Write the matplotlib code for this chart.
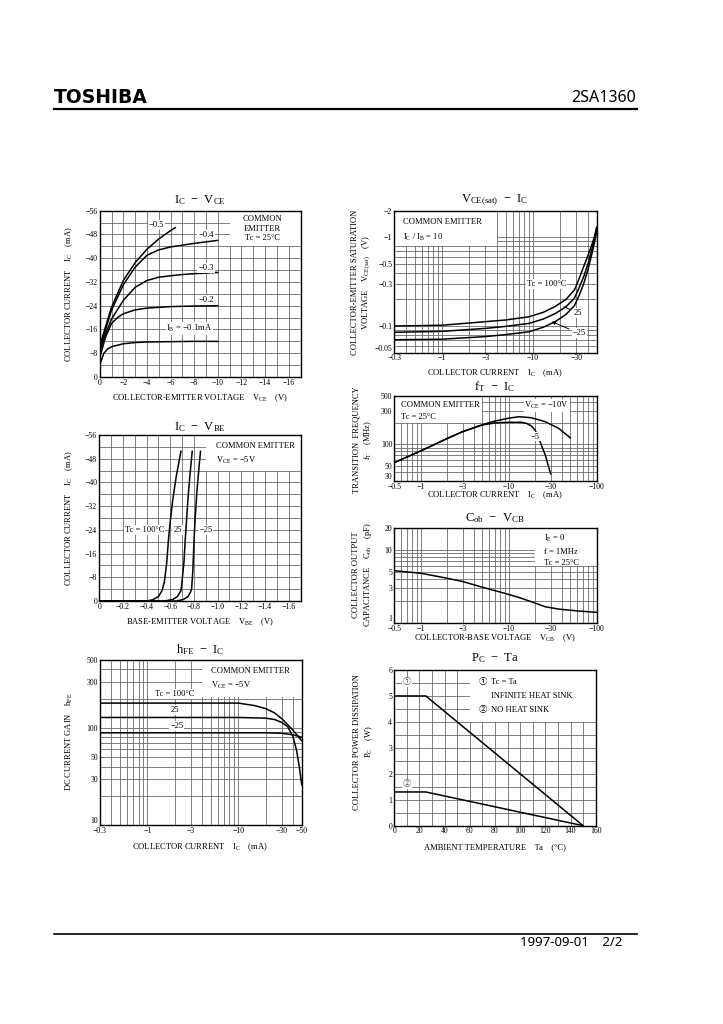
import matplotlib
matplotlib.use("Agg")
import matplotlib.pyplot as plt
from matplotlib.ticker import FixedLocator, NullFormatter, LogLocator, MultipleLocator
from matplotlib.patches import Rectangle

plt.rcParams['font.family'] = ['Liberation Serif', 'Noto Sans CJK JP', 'DejaVu Sans']
plt.rcParams['mathtext.fontset'] = 'custom'
plt.rcParams['mathtext.rm'] = 'Liberation Serif'
plt.rcParams['mathtext.it'] = 'Liberation Serif'

# ---- data (magnitudes, the sheet prints them negative) ----
# IC - VCE, Tc = 25C
ib01_v = [0, 0.35, 0.7, 1, 2, 3, 4, 6, 8, 10]
ib01_i = [4.0, 8.0, 9.5, 10.2, 11.2, 11.6, 11.8, 11.9, 12.0, 12.0]
ib02_v = [0, 0.5, 1, 1.5, 2, 3, 4, 6, 8, 10]
ib02_i = [6.5, 13.5, 18.0, 20.0, 21.3, 22.6, 23.2, 23.7, 23.9, 24.0]
ib03_v = [0, 0.5, 1, 2, 3, 4, 5, 6, 7, 8, 10]
ib03_i = [8.5, 14.5, 19.5, 25.8, 30.2, 32.5, 33.6, 34.1, 34.5, 34.8, 35.2]
ib04_v = [0, 0.5, 1, 2, 3, 4, 5, 6, 7, 8, 10]
ib04_i = [9.5, 16.0, 22.5, 31.0, 37.0, 41.0, 42.8, 43.8, 44.4, 45.0, 46.0]
ib05_v = [0, 0.5, 1, 2, 3, 4, 5, 6, 6.4]
ib05_i = [10.5, 17.0, 23.5, 32.5, 38.5, 43.0, 46.5, 49.3, 50.3]

# IC - VBE, VCE = -5V
t100_v = [0, 0.40, 0.45, 0.50, 0.53, 0.55, 0.57, 0.585, 0.60, 0.62, 0.65, 0.69]
t100_i = [0, 0, 0.4, 1.5, 3.5, 6.5, 13, 21, 27, 34, 42, 50.5]
t25_v = [0, 0.55, 0.62, 0.66, 0.69, 0.70, 0.715, 0.725, 0.735, 0.75, 0.765, 0.785]
t25_i = [0, 0, 0.5, 1.5, 3.5, 7, 13, 20, 26, 35, 42, 50.5]
tm25_v = [0, 0.65, 0.71, 0.75, 0.77, 0.78, 0.79, 0.80, 0.81, 0.825, 0.84, 0.855]
tm25_i = [0, 0, 0.5, 1.5, 3.0, 4, 10, 20, 28, 37, 44, 50.5]

# hFE - IC
h100_ic = [0.3, 1, 3, 10, 15, 20, 25, 30, 35, 40, 45, 50]
h100 = [180, 180, 180, 180, 170, 158, 143, 125, 108, 95, 83, 74]
h25_ic = [0.3, 1, 3, 10, 20, 25, 30, 35, 40, 44, 47, 50]
h25 = [128, 128, 128, 128, 126, 122, 114, 103, 82, 58, 40, 26]
hm25_ic = [0.3, 1, 3, 10, 20, 30, 40, 50]
hm25 = [89, 89, 89, 89, 89, 88, 85, 80]

# VCE(sat) - IC, IC/IB = 10
sat_ic = [0.3, 1, 3, 5, 9, 13, 17.5, 23, 28.5, 32, 36, 40, 43.6, 47, 50]
sat100 = [0.100, 0.102, 0.112, 0.117, 0.127, 0.143, 0.166, 0.20, 0.255, 0.34, 0.47, 0.62, 0.79, 1.00, 1.30]
sat25 = [0.085, 0.087, 0.094, 0.099, 0.107, 0.120, 0.138, 0.165, 0.206, 0.27, 0.36, 0.50, 0.69, 0.95, 1.26]
satm25 = [0.070, 0.071, 0.076, 0.080, 0.086, 0.097, 0.112, 0.135, 0.170, 0.22, 0.30, 0.43, 0.61, 0.85, 1.16]

# fT - IC
ft10_ic = [0.5, 1, 2, 3, 5, 7, 10, 13, 18, 26, 37, 50]
ft10 = [55, 81, 122, 153, 192, 217, 238, 250, 242, 212, 170, 125]
ft5_ic = [0.5, 1, 2, 3, 5, 7, 10, 14, 16, 18, 20, 22.7, 26, 29.4, 30]
ft5 = [55, 81, 122, 153, 190, 204, 208, 208, 200, 185, 160, 110, 71, 41, 38]

# Cob - VCB
cob_v = [0.5, 1, 2, 3, 5, 9, 13, 18, 26, 37, 62, 100]
cob = [5.2, 4.8, 4.1, 3.7, 3.1, 2.56, 2.25, 1.97, 1.68, 1.56, 1.47, 1.41]

# PC - Ta
ta1 = [0, 25, 150]
pc1 = [5, 5, 0]
ta2 = [0, 25, 150]
pc2 = [1.3, 1.3, 0]

W, H = 723, 1024
fig = plt.figure(figsize=(W / 100, H / 100), dpi=100)

GRID = '#6a6a6a'
FS = 6.1    # labels / notes
TFS = 5.6   # tick labels


def box(l, r, t, b):
    return fig.add_axes([l / W, 1 - b / H, (r - l) / W, (b - t) / H])


def neg(vals, fmt='{:g}'):
    return ['0' if v == 0 else '\u2212' + fmt.format(v) for v in vals]


def setup(ax, xt, yt, xfmt='{:g}', yfmt='{:g}'):
    ax.set_axisbelow(True)
    ax.xaxis.set_major_locator(FixedLocator(xt))
    ax.yaxis.set_major_locator(FixedLocator(yt))
    ax.set_xticklabels(neg(xt, xfmt), fontsize=TFS)
    ax.set_yticklabels(neg(yt, yfmt), fontsize=TFS)
    ax.xaxis.set_minor_formatter(NullFormatter())
    ax.yaxis.set_minor_formatter(NullFormatter())
    ax.tick_params(which='both', length=0)
    ax.tick_params(axis='x', pad=1.2)
    ax.tick_params(axis='y', pad=1.5)
    ax.grid(which='both', color=GRID, lw=0.6)
    for s in ax.spines.values():
        s.set_linewidth(1.0)


def lift_bottom(ax):
    # keep the lowest y label clear of the first x label at the corner
    ax.get_yticklabels()[0].set_verticalalignment('bottom')


def logminor(ax):
    ax.xaxis.set_minor_locator(LogLocator(base=10, subs=range(1, 10), numticks=50))
    ax.yaxis.set_minor_locator(LogLocator(base=10, subs=range(1, 10), numticks=50))


def white(ax, x0, x1, y0, y1):
    ax.add_patch(Rectangle((x0, y0), x1 - x0, y1 - y0, facecolor='white',
                           edgecolor='none', zorder=1))


def lbl(ax, x, y, s, **kw):
    ax.text(x, y, s, fontsize=FS, zorder=4, ha=kw.pop('ha', 'center'),
            va=kw.pop('va', 'center'),
            bbox=dict(facecolor='white', edgecolor='none', pad=0.6), **kw)


def title(x, y, s):
    fig.text(x / W, 1 - y / H, s, fontsize=9, ha='center', va='center')


def xlab(x, y, s):
    fig.text(x / W, 1 - y / H, s, fontsize=FS, ha='center', va='center')


def ylab(x, y, s):
    fig.text(x / W, 1 - y / H, s, fontsize=FS, ha='center', va='center',
             rotation=90, linespacing=1.2)


LW = 1.1

# ---------- IC - VCE ----------
ax = box(99.7, 300.5, 210.7, 377)
ax.set_xlim(0, 17)
ax.set_ylim(0, 56)
setup(ax, list(range(0, 17, 2)), list(range(0, 57, 8)))
ax.xaxis.set_minor_locator(MultipleLocator(1))
ax.yaxis.set_minor_locator(MultipleLocator(4))
white(ax, 11, 17, 44, 56)
for v, i in [(ib01_v, ib01_i), (ib02_v, ib02_i), (ib03_v, ib03_i),
             (ib04_v, ib04_i), (ib05_v, ib05_i)]:
    ax.plot(v, i, color='k', lw=LW, zorder=3)
lbl(ax, 4.8, 51.3, '\u22120.5')
lbl(ax, 9.0, 47.8, '\u22120.4')
lbl(ax, 9.0, 36.8, '\u22120.3')
lbl(ax, 9.0, 26.0, '\u22120.2')
lbl(ax, 7.6, 16.2, 'I$_\\mathregular{B}$ = \u22120.1mA')
ax.text(13.8, 54.5, 'COMMON\nEMITTER\nTc = 25\u00b0C', fontsize=FS, ha='center',
        va='top', linespacing=1.25, zorder=4)
title(200, 200.5, 'I$_\\mathregular{C}$  \u2212  V$_\\mathregular{CE}$')
xlab(200, 398.5, 'COLLECTOR-EMITTER VOLTAGE    V$_\\mathregular{CE}$    (V)')
ylab(69, 294, 'COLLECTOR CURRENT    I$_\\mathregular{C}$    (mA)')

# ---------- IC - VBE ----------
ax = box(99.3, 300.5, 435, 601)
ax.set_xlim(0, 1.7)
ax.set_ylim(0, 56)
setup(ax, [0, 0.2, 0.4, 0.6, 0.8, 1.0, 1.2, 1.4, 1.6], list(range(0, 57, 8)), xfmt='{:.1f}')
ax.xaxis.set_minor_locator(MultipleLocator(0.1))
ax.yaxis.set_minor_locator(MultipleLocator(4))
white(ax, 0.9, 1.7, 44, 56)
for v, i in [(t100_v, t100_i), (t25_v, t25_i), (tm25_v, tm25_i)]:
    ax.plot(v, i, color='k', lw=LW, zorder=3)
lbl(ax, 0.38, 24, 'Tc = 100\u00b0C')
lbl(ax, 0.66, 24, '25')
lbl(ax, 0.9, 24, '\u221225')
ax.text(0.99, 53.5, 'COMMON EMITTER\nV$_\\mathregular{CE}$ = \u22125V', fontsize=FS,
        ha='left', va='top', linespacing=1.6, zorder=4)
title(200, 427, 'I$_\\mathregular{C}$  \u2212  V$_\\mathregular{BE}$')
xlab(200, 622.5, 'BASE-EMITTER VOLTAGE    V$_\\mathregular{BE}$    (V)')
ylab(69, 518, 'COLLECTOR CURRENT    I$_\\mathregular{C}$    (mA)')

# ---------- hFE - IC ----------
ax = box(100, 301.7, 660, 825)
ax.set_xscale('log')
ax.set_yscale('log')
ax.set_xlim(0.3, 50)
ax.set_ylim(10, 500)
logminor(ax)
setup(ax, [0.3, 1, 3, 10, 30, 50], [10, 30, 50, 100, 300, 500])
ax.set_yticklabels(['10', '30', '50', '100', '300', '500'], fontsize=TFS)
lift_bottom(ax)
white(ax, 4, 50, 210, 500)
ax.plot(h100_ic, h100, color='k', lw=LW, zorder=3)
ax.plot(h25_ic, h25, color='k', lw=LW, zorder=3)
ax.plot(hm25_ic, hm25, color='k', lw=LW, zorder=3)
lbl(ax, 2.0, 225, 'Tc = 100\u00b0C')
lbl(ax, 2.0, 152, '25')
lbl(ax, 2.1, 104, '\u221225')
ax.text(5.0, 420, 'COMMON EMITTER\nV$_\\mathregular{CE}$ = \u22125V', fontsize=FS,
        ha='left', va='top', linespacing=1.6, zorder=4)
title(200, 650, 'h$_\\mathregular{FE}$  \u2212  I$_\\mathregular{C}$')
xlab(200, 847.5, 'COLLECTOR CURRENT    I$_\\mathregular{C}$    (mA)')
ylab(69, 742, 'DC CURRENT GAIN    h$_\\mathregular{FE}$')

# ---------- VCE(sat) - IC ----------
ax = box(394.3, 596.7, 210.7, 352.7)
ax.set_xscale('log')
ax.set_yscale('log')
ax.set_xlim(0.3, 50)
ax.set_ylim(0.05, 2)
logminor(ax)
setup(ax, [0.3, 1, 3, 10, 30], [0.05, 0.1, 0.3, 0.5, 1, 2])
lift_bottom(ax)
white(ax, 0.3, 4, 0.8, 2)
ax.plot(sat_ic, sat100, color='k', lw=LW, zorder=3)
ax.plot(sat_ic, sat25, color='k', lw=LW, zorder=3)
ax.plot(sat_ic, satm25, color='k', lw=LW, zorder=3)
lbl(ax, 14, 0.3, 'Tc = 100\u00b0C')
ax.annotate('25', xy=(22, 0.165), xytext=(31, 0.139), fontsize=FS, ha='center',
            va='center', zorder=4,
            bbox=dict(facecolor='white', edgecolor='none', pad=0.6),
            arrowprops=dict(arrowstyle='-', color='k', lw=0.7, shrinkA=2, shrinkB=0))
ax.annotate('\u221225', xy=(16, 0.112), xytext=(32, 0.083), fontsize=FS, ha='center',
            va='center', zorder=4,
            bbox=dict(facecolor='white', edgecolor='none', pad=0.6),
            arrowprops=dict(arrowstyle='-|>', color='k', lw=0.7, mutation_scale=5,
                            shrinkA=2, shrinkB=0))
ax.text(0.37, 1.65, 'COMMON EMITTER\nI$_\\mathregular{C}$ / I$_\\mathregular{B}$ = 10',
        fontsize=FS, ha='left', va='top', linespacing=1.7, zorder=4)
title(495, 200, 'V$_\\mathregular{CE(sat)}$  \u2212  I$_\\mathregular{C}$')
xlab(495, 373.5, 'COLLECTOR CURRENT    I$_\\mathregular{C}$    (mA)')
ylab(362, 282, 'COLLECTOR-EMITTER SATURATION\nVOLTAGE    V$_\\mathregular{CE(sat)}$    (V)')

# ---------- fT - IC ----------
ax = box(394.3, 596.7, 395.7, 481)
ax.set_xscale('log')
ax.set_yscale('log')
ax.set_xlim(0.5, 100)
ax.set_ylim(30, 500)
logminor(ax)
setup(ax, [0.5, 1, 3, 10, 30, 100], [30, 50, 100, 300, 500])
ax.set_yticklabels(['30', '50', '100', '300', '500'], fontsize=TFS)
lift_bottom(ax)
white(ax, 0.5, 5, 200, 500)
ax.plot(ft10_ic, ft10, color='k', lw=LW, zorder=3)
ax.plot(ft5_ic, ft5, color='k', lw=LW, zorder=3)
lbl(ax, 27, 360, 'V$_\\mathregular{CE}$ = \u221210V')
lbl(ax, 20, 130, '\u22125')
ax.text(0.6, 420, 'COMMON EMITTER\nTc = 25\u00b0C', fontsize=FS, ha='left', va='top',
        linespacing=1.7, zorder=4)
title(495, 387, 'f$_\\mathregular{T}$  \u2212  I$_\\mathregular{C}$')
xlab(495, 495.5, 'COLLECTOR CURRENT    I$_\\mathregular{C}$    (mA)')
ylab(363.5, 440, 'TRANSITION  FREQUENCY\nf$_\\mathregular{T}$    (MHz)')

# ---------- Cob - VCB ----------
ax = box(394.3, 596.7, 527.7, 623.3)
ax.set_xscale('log')
ax.set_yscale('log')
ax.set_xlim(0.5, 100)
ax.set_ylim(1, 20)
logminor(ax)
setup(ax, [0.5, 1, 3, 10, 30, 100], [1, 3, 5, 10, 20])
ax.set_yticklabels(['1', '3', '5', '10', '20'], fontsize=TFS)
lift_bottom(ax)
white(ax, 20, 100, 6, 20)
ax.plot(cob_v, cob, color='k', lw=LW, zorder=3)
ax.text(25, 17, 'I$_\\mathregular{E}$ = 0\nf = 1MHz\nTc = 25\u00b0C', fontsize=FS,
        ha='left', va='top', linespacing=1.6, zorder=4)
title(495, 518, 'C$_\\mathregular{ob}$  \u2212  V$_\\mathregular{CB}$')
xlab(495, 638, 'COLLECTOR-BASE VOLTAGE    V$_\\mathregular{CB}$    (V)')
ylab(363, 575, 'COLLECTOR OUTPUT\nCAPACITANCE    C$_\\mathregular{ob}$    (pF)')

# ---------- PC - Ta ----------
ax = box(394.3, 595.7, 670, 825.7)
ax.set_xlim(0, 160)
ax.set_ylim(0, 6)
setup(ax, list(range(0, 161, 20)), list(range(0, 7)))
ax.set_xticklabels([str(t) for t in range(0, 161, 20)], fontsize=TFS)
ax.set_yticklabels([str(t) for t in range(0, 7)], fontsize=TFS)
ax.xaxis.set_minor_locator(MultipleLocator(10))
ax.yaxis.set_minor_locator(MultipleLocator(0.5))
white(ax, 60, 160, 4, 6)
ax.plot(ta1, pc1, color='k', lw=LW, zorder=3)
ax.plot(ta2, pc2, color='k', lw=LW, zorder=3)
lbl(ax, 10, 5.55, '\u2460', color='#555555')
lbl(ax, 10, 1.6, '\u2461', color='#555555')
ax.text(67, 5.55, '\u2460', fontsize=FS, ha='left', va='center', zorder=4)
ax.text(77, 5.55, 'Tc = Ta', fontsize=FS, ha='left', va='center', zorder=4)
ax.text(77, 5.0, 'INFINITE HEAT SINK', fontsize=FS, ha='left', va='center', zorder=4)
ax.text(67, 4.45, '\u2461', fontsize=FS, ha='left', va='center', zorder=4)
ax.text(77, 4.45, 'NO HEAT SINK', fontsize=FS, ha='left', va='center', zorder=4)
title(495, 658, 'P$_\\mathregular{C}$  \u2212  Ta')
xlab(495, 847.5, 'AMBIENT TEMPERATURE    Ta    (\u00b0C)')
ylab(364, 742, 'COLLECTOR POWER DISSIPATION\nP$_\\mathregular{C}$    (W)')

# ---------- header / footer ----------
fig.text(54 / W, 1 - 97.5 / H, 'TOSHIBA', fontsize=13.5, fontweight='bold',
         family='DejaVu Sans', ha='left', va='center')
fig.text(636 / W, 1 - 97.5 / H, '2SA1360', fontsize=11.5, family='Noto Sans',
         ha='right', va='center')
fig.add_artist(plt.Line2D([54 / W, 637 / W], [1 - 109 / H, 1 - 109 / H],
                          color='k', lw=1.6))
fig.add_artist(plt.Line2D([54 / W, 637 / W], [1 - 933.5 / H, 1 - 933.5 / H],
                          color='k', lw=1.2))
fig.text(622 / W, 1 - 942.5 / H, '1997-09-01    2/2', fontsize=9.5, family='Noto Sans',
         ha='right', va='center')

fig.savefig('out.png', dpi=100)
